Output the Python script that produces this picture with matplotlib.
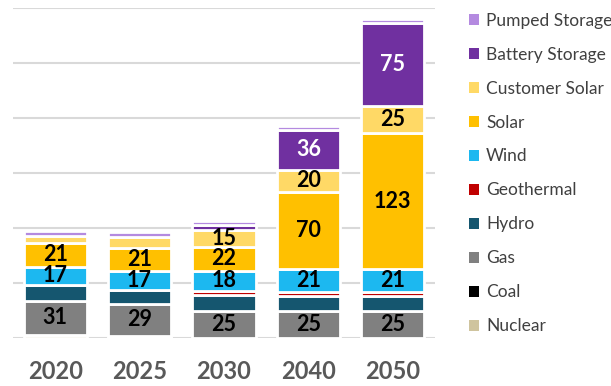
import matplotlib
matplotlib.use("Agg")
import matplotlib.pyplot as plt
from matplotlib.patches import Patch
import numpy as np

years = ["2020", "2025", "2030", "2040", "2050"]
series = ["Nuclear", "Coal", "Gas", "Hydro", "Geothermal", "Wind", "Solar",
          "Customer Solar", "Battery Storage", "Pumped Storage"]
nuclear = [3, 2, 0, 0, 0]
coal = [0, 0, 0, 0, 0]
gas = [31, 29, 25, 25, 25]
hydro = [14, 13, 14, 13, 13]
geothermal = [0, 0, 4, 4, 4]
wind = [17, 17, 18, 21, 21]
solar = [21, 21, 22, 70, 123]
customer_solar = [7, 10, 15, 20, 25]
battery = [0, 0, 5, 36, 75]
pumped = [4, 4, 3, 4, 4]

values = [nuclear, coal, gas, hydro, geothermal, wind, solar,
          customer_solar, battery, pumped]
colors = ["#CFC49E", "#000000", "#808080", "#15566F", "#C00000", "#1CB8F0",
          "#FFC000", "#FFD966", "#7030A0", "#B48AE0"]
label_colors = {"Battery Storage": "white"}

plt.rcParams['font.family'] = ['Lato', 'DejaVu Sans']

W, H = 611, 386
fig = plt.figure(figsize=(W / 100, H / 100), dpi=100)
ax = fig.add_axes([13 / W, 1 - 338 / H, (435 - 13) / W, (338 - 8) / H])

x = np.arange(len(years))
bottom = np.zeros(len(years))
for name, vals, col in zip(series, values, colors):
    vals = np.array(vals, dtype=float)
    ax.bar(x, vals, width=0.75, bottom=bottom, color=col, edgecolor="white",
           linewidth=2, zorder=3)
    for xi, v, b in zip(x, vals, bottom):
        if v >= 15:
            ax.text(xi, b + v / 2, f"{int(v)}", ha="center", va="center",
                    fontsize=15.5, fontweight="bold",
                    color=label_colors.get(name, "black"), zorder=4)
    bottom += vals

ax.set_xlim(-0.5, 4.5)
ax.set_ylim(0, 300)
ax.set_yticks(np.arange(0, 301, 50))
ax.yaxis.grid(True, color="#D9D9D9", linewidth=1.5, zorder=0)
ax.set_axisbelow(True)
ax.tick_params(axis="y", left=False, labelleft=False)
ax.set_xticks(x)
ax.set_xticklabels(years, fontsize=17, fontweight="bold", color="#595959")
ax.tick_params(axis="x", bottom=False, pad=12)
for s in ax.spines.values():
    s.set_visible(False)

handles = [Patch(facecolor=c, edgecolor="none") for c in colors][::-1]
labels = series[::-1]
leg = fig.legend(handles, labels, loc="upper left",
                 bbox_to_anchor=(469 / W, 1 - 12.6 / H),
                 frameon=False, fontsize=12.5, borderpad=0, borderaxespad=0,
                 handlelength=0.58, handleheight=0.58, handletextpad=0.4,
                 labelspacing=1.035)
for t in leg.get_texts():
    t.set_color("#404040")

fig.savefig("out.png", dpi=100)
